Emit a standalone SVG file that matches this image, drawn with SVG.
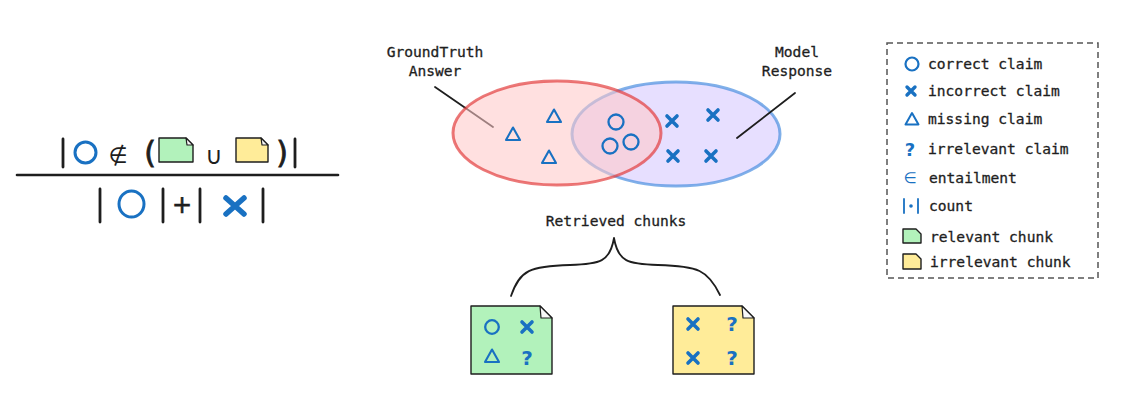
<svg xmlns="http://www.w3.org/2000/svg" width="1138" height="408" viewBox="0 0 1138 408">
<style>
.ink{stroke:#1e1e1e;fill:none;stroke-linecap:round;stroke-linejoin:round}
.sym{stroke:#1971c2;fill:none;stroke-linecap:round;stroke-linejoin:round}
.mono{font-family:"DejaVu Sans Mono","Liberation Mono",monospace;font-size:14.6px;fill:#1e1e1e;stroke:#1e1e1e;stroke-width:0.3px}
.math{font-family:"DejaVu Sans","Liberation Sans",sans-serif;fill:#1e1e1e}
.q{font-family:"DejaVu Sans","Liberation Sans",sans-serif;font-weight:bold;fill:#1971c2;text-anchor:middle}
.doc{stroke:#1e1e1e;stroke-width:1.4;stroke-linejoin:round}
.green{fill:#b2f2bb}
.yellow{fill:#ffec99}
.fold{fill:#f8f8f8;stroke:#1e1e1e;stroke-width:1.2;stroke-linejoin:round}
</style>
<defs>
<g id="xm"><path d="M-5,-5 L5,5 M5,-5 L-5,5" class="sym" stroke-width="3.6"/></g>
<g id="tri"><path d="M0,-6.5 L7,6 L-7,6 Z" class="sym" stroke-width="2.1"/></g>
</defs>
<rect width="1138" height="408" fill="#ffffff"/>

<g id="formula">
  <path class="ink" stroke-width="2.8" d="M63,139 L63,167 M295,139 L295,167"/>
  <circle cx="85.5" cy="152.5" r="10.5" class="sym" stroke-width="3"/>
  <text x="118" y="163" class="math" font-size="22" text-anchor="middle">∉</text>
  <text x="150" y="163" class="math" font-size="30" text-anchor="middle" stroke="#1e1e1e" stroke-width="0.8">(</text>
  <path class="doc green" d="M159,138 H186 L193,145 V162 H159 Z"/>
  <path class="fold" d="M186,138 L193,145 L187,145 Z"/>
  <text x="214" y="164" class="math" font-size="24" text-anchor="middle">∪</text>
  <path class="doc yellow" d="M236,138 H261 L268,145 V162 H236 Z"/>
  <path class="fold" d="M261,138 L268,145 L262,145 Z"/>
  <text x="282" y="163" class="math" font-size="30" text-anchor="middle" stroke="#1e1e1e" stroke-width="0.8">)</text>
  <path class="ink" stroke-width="2.6" d="M17,175 L338,175"/>
  <path class="ink" stroke-width="2.8" d="M100,189 L100,222 M163,189 L163,222 M200,189 L200,222 M263,189 L263,222"/>
  <ellipse cx="131.5" cy="204" rx="12.5" ry="13" class="sym" stroke-width="3"/>
  <text x="182" y="213" class="math" font-size="24" text-anchor="middle" stroke="#1e1e1e" stroke-width="0.6">+</text>
  <path d="M226,198 L244,214 M244,198 L226,214" class="sym" stroke-width="5.5"/>
</g>

<g id="connectors">
  <path class="ink" stroke-width="1.8" d="M435,87 L493,127"/>
  <path class="ink" stroke-width="1.8" d="M511,296 C520,270 530,266 570,265 C600,264 610,262 614,238 C618,262 628,264 658,265 C698,266 708,270 720,295"/>
</g>

<g id="model-response">
  <ellipse cx="676" cy="134" rx="104" ry="52" fill="#d0bfff" fill-opacity="0.5" stroke="#4a8fe0" stroke-opacity="0.7" stroke-width="3"/>
</g>
<g id="groundtruth">
  <ellipse cx="557" cy="133" rx="104" ry="52" fill="#ffc9c9" fill-opacity="0.57" stroke="#e03131" stroke-opacity="0.65" stroke-width="3"/>
</g>
<path class="ink" stroke-width="1.8" d="M795,93 L737,138"/>

<g id="venn-labels">
  <text x="435" y="57" class="mono" text-anchor="middle">GroundTruth</text>
  <text x="435" y="76" class="mono" text-anchor="middle">Answer</text>
  <text x="797" y="57" class="mono" text-anchor="middle">Model</text>
  <text x="797" y="76" class="mono" text-anchor="middle">Response</text>
</g>

<g id="venn-symbols">
  <use href="#tri" x="513" y="134"/>
  <use href="#tri" x="554" y="116"/>
  <use href="#tri" x="549" y="157"/>
  <circle cx="616" cy="122" r="7.5" class="sym" stroke-width="2.3"/>
  <circle cx="610" cy="146" r="7.5" class="sym" stroke-width="2.3"/>
  <circle cx="631" cy="142" r="7.5" class="sym" stroke-width="2.3"/>
  <use href="#xm" x="672" y="121"/>
  <use href="#xm" x="713" y="115"/>
  <use href="#xm" x="673" y="156"/>
  <use href="#xm" x="711" y="156"/>
</g>

<g id="retrieved-label">
  <text x="616" y="226" class="mono" text-anchor="middle">Retrieved chunks</text>
</g>

<g id="chunk-relevant">
  <path class="doc green" d="M471,306 H540 L552,318 V374 H471 Z"/>
  <path class="fold" d="M540,306 L552,318 L541,318 Z"/>
  <circle cx="492" cy="327" r="6.8" class="sym" stroke-width="2.3"/>
  <use href="#xm" x="527" y="327"/>
  <use href="#tri" x="492" y="356"/>
  <text x="527" y="365" class="q" font-size="20">?</text>
</g>

<g id="chunk-irrelevant">
  <path class="doc yellow" d="M673,306 H742 L754,318 V374 H673 Z"/>
  <path class="fold" d="M742,306 L754,318 L743,318 Z"/>
  <use href="#xm" x="693" y="324"/>
  <text x="732" y="331" class="q" font-size="20">?</text>
  <use href="#xm" x="693" y="358"/>
  <text x="732" y="365" class="q" font-size="20">?</text>
</g>

<g id="legend">
  <rect x="887" y="43" width="211" height="235" fill="none" stroke="#555555" stroke-width="1.5" stroke-dasharray="6 4"/>
  <circle cx="912" cy="64" r="6.5" class="sym" stroke-width="2.2"/>
  <text x="928" y="68.5" class="mono">correct claim</text>
  <path d="M907,87 L915,95 M915,87 L907,95" class="sym" stroke-width="3.4"/>
  <text x="928" y="95.5" class="mono">incorrect claim</text>
  <path d="M912,113 L918.5,124.5 L905.5,124.5 Z" class="sym" stroke-width="2"/>
  <text x="928" y="123.5" class="mono">missing claim</text>
  <text x="910" y="156" class="q" font-size="18">?</text>
  <text x="928" y="153.5" class="mono">irrelevant claim</text>
  <text x="910" y="183" font-family="DejaVu Sans, sans-serif" font-size="15" fill="#1971c2" text-anchor="middle">∈</text>
  <text x="929" y="182.5" class="mono">entailment</text>
  <path d="M904,199 L904,213 M918,199 L918,213" class="sym" stroke-width="1.8"/>
  <circle cx="911" cy="206" r="1.8" fill="#1971c2"/>
  <text x="929" y="210.5" class="mono">count</text>
  <path class="doc green" d="M903,229 H916 L921,234 V243 H903 Z"/>
  <text x="930" y="241.5" class="mono">relevant chunk</text>
  <path class="doc yellow" d="M903,254 H916 L921,259 V269 H903 Z"/>
  <text x="930" y="266.5" class="mono">irrelevant chunk</text>
</g>
</svg>
